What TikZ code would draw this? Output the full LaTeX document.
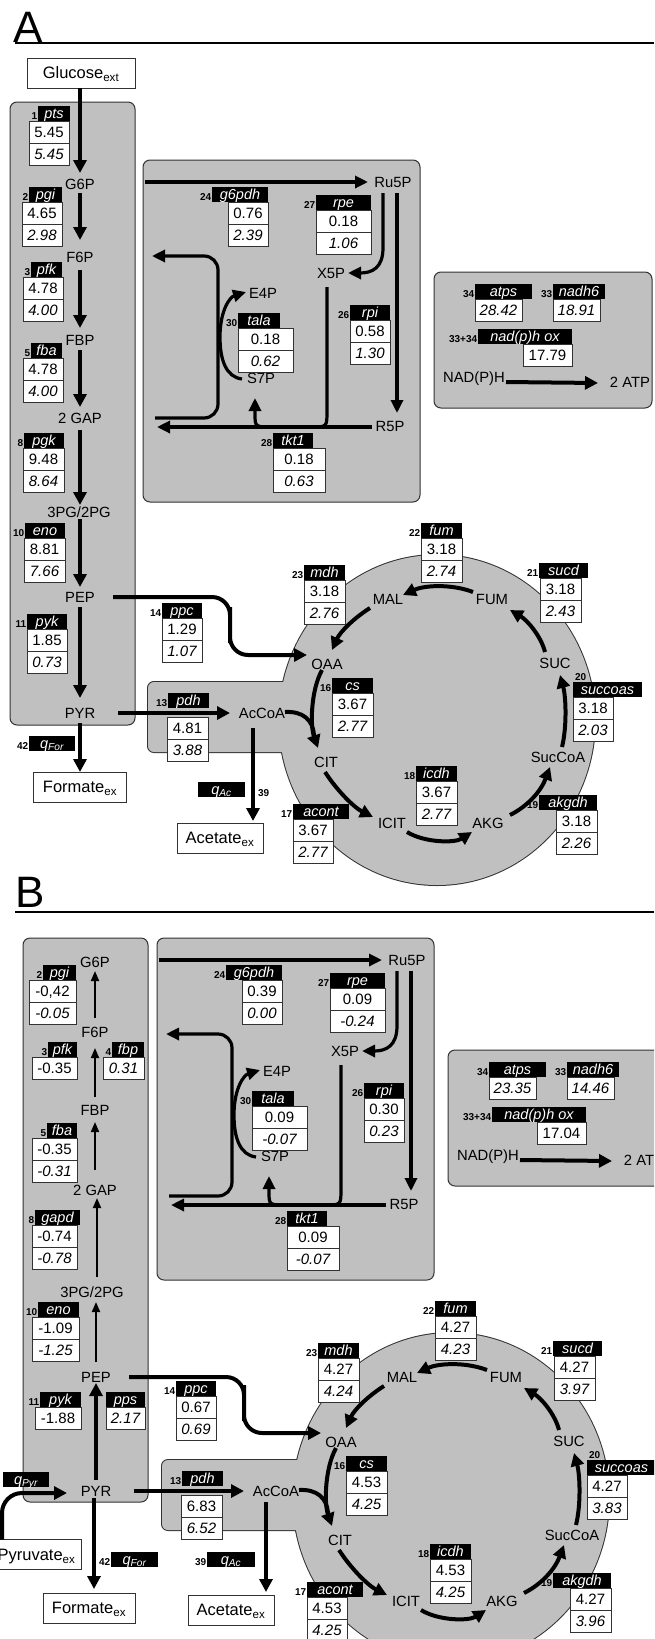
\documentclass[tikz,border=0pt]{standalone}
\usepackage{fontspec}
\setmainfont{Liberation Sans}
\usetikzlibrary{arrows.meta,calc}
\definecolor{grayc}{RGB}{192,192,192}
\definecolor{edgec}{RGB}{50,50,50}
\newcommand\metf{\fontsize{14.8pt}{16pt}\selectfont}
\newcommand\valf{\fontsize{15pt}{16pt}\selectfont}
\newcommand\hdrf{\fontsize{14.5pt}{15pt}\selectfont\itshape}
\newcommand\numf{\fontsize{10pt}{11pt}\selectfont\bfseries}
\newcommand\exf{\fontsize{16.5pt}{18pt}\selectfont}
\newcommand\ttlf{\fontsize{44pt}{44pt}\selectfont}
\makeatletter
\newcommand\setfv[2]{\expandafter\def\csname fluxv@#1\endcsname{#2}}
\newcommand\fv[1]{\csname fluxv@#1\endcsname}
\makeatother
\tikzset{
  x=1pt, y=-1pt,
  graybox/.style={draw=edgec, line width=1pt, fill=grayc, rounded corners=7pt, inner sep=0pt, outer sep=0pt},
  met/.style={inner sep=0pt, outer sep=0pt, text height=10.6pt, text depth=0pt, font=\metf},
  hdrbox/.style={fill=black, text=white, inner sep=0pt, outer sep=0pt, minimum height=15pt, text height=10.5pt, text depth=1.5pt, font=\hdrf},
  valbox/.style={draw=edgec, fill=white, line width=0.9pt, inner sep=0pt, outer sep=0pt, minimum height=22pt, text height=10.6pt, text depth=0pt, font=\valf},
  numlbl/.style={inner sep=0pt, outer sep=0pt, font=\numf},
  exbox/.style={draw=edgec, fill=white, line width=1pt, inner sep=0pt, outer sep=0pt, minimum height=30pt, text height=11.8pt, text depth=0pt, font=\exf},
  ttl/.style={inner sep=0pt, outer sep=0pt, font=\ttlf},
  rulestyle/.style={line width=1.5pt},
  arr/.style={line width=4pt, -{Triangle[length=13pt, width=13pt]}},
  parr/.style={line width=3.2pt, -{Triangle[length=13pt, width=12pt]}},
  pline/.style={line width=4pt},
  thinarr/.style={line width=1.8pt, -{Triangle[length=10pt, width=8pt]}},
}
\newcommand\hdr[6]{%
  \node[hdrbox, minimum width=#5pt, anchor=north west] (#1) at (#3,#4) {#6};
  \node[numlbl, anchor=south east] (#1-n) at ($(#1.south west)+(-0.8,-1.5)$) {#2};}
\newcommand\vals[6]{%
  \node[valbox, minimum width=#4pt, anchor=north west] (#1-a) at (#2,#3) {#5};
  \node[valbox, minimum width=#4pt, anchor=north west] (#1-b) at (#1-a.south west) {\itshape #6};}
\newcommand\vup[5]{%
  \node[valbox, minimum width=#4pt, anchor=north west] (#1) at (#2,#3) {#5};}
\newcommand\vit[5]{%
  \node[valbox, minimum width=#4pt, anchor=north west] (#1) at (#2,#3) {\itshape #5};}
\newcommand\commonpart{%
  \node[graybox, minimum width=277pt, minimum height=342pt, anchor=north west] (ppp) at (143,160) {};
  \node[graybox, minimum width=218pt, minimum height=136pt, anchor=north west] (cof) at (434,272) {};
  \draw[edgec, line width=2pt] (437,720) ellipse[x radius=158, y radius=165];
  \draw[edgec, line width=2pt, rounded corners=6pt] (148,682) rectangle (330,752);
  \fill[grayc] (437,720) ellipse[x radius=158, y radius=165];
  \fill[grayc, rounded corners=6pt] (148,682) rectangle (330,752);
  % metabolites
  \node[met] (Ru5P) at (393,182) {Ru5P};
  \node[met] (X5P) at (331,273) {X5P};
  \node[met] (R5P) at (390,426) {R5P};
  \node[met] (E4P) at (263,293) {E4P};
  \node[met] (S7P) at (261,378) {S7P};
  \node[met] (AcCoA) at (262,713) {AcCoA};
  \node[met] (OAA) at (327,664) {OAA};
  \node[met] (CIT) at (326,762) {CIT};
  \node[met] (ICIT) at (392,823) {ICIT};
  \node[met] (AKG) at (488,823) {AKG};
  \node[met] (SucCoA) at (558,757) {SucCoA};
  \node[met] (SUC) at (555,663) {SUC};
  \node[met] (FUM) at (492,599) {FUM};
  \node[met] (MAL) at (388,599) {MAL};
  \node[met] (NADPH) at (474,377) {NAD(P)H};
  \node[met] (ATP) at (630,382) {2 ATP};
  % pentose phosphate arrows
  \coordinate (g6in) at (145,182);
  \draw[parr] (g6in) -- ($(Ru5P)+(-25,0)$);
  \draw[parr] ($(Ru5P)+(-10,11)$) -- (383,248) .. controls (383,268) and (372,273) .. ($(X5P)+(17,0)$);
  \draw[parr] ($(Ru5P)+(4,11)$) -- ($(R5P)+(7,-13)$);
  \coordinate (gapout) at (157,427);
  \draw[parr] ($(R5P)+(-18,1)$) -- (gapout);
  \draw[parr] ($(X5P)+(-4,14)$) -- (327,411) .. controls (327,427) .. (311,427) -- (273,427) .. controls (255,427) .. (255,414) -- ($(S7P)+(-6,20)$);
  \draw[parr] ($(S7P)+(-19,1)$) .. controls (226,377) and (220,360) .. (220,337) .. controls (220,310) and (230,297) .. ($(E4P)+(-17,-1)$);
  \coordinate (talain) at (155,418);
  \coordinate (talaout) at (152,256);
  \draw[parr, rounded corners=14pt] (talain) -| (218,256) -- (talaout);
  % TCA arrows
  \draw[arr] ($(FUM)+(-19,-7)$) .. controls (452,584) and (425,585) .. ($(MAL)+(15,-4)$);
  \draw[arr] ($(MAL)+(-18,9)$) .. controls (354,618) and (340,632) .. ($(OAA)+(5,-14)$);
  \draw[arr] ($(OAA)+(-5,6)$) .. controls (311,690) and (310,725) .. ($(CIT)+(-8,-14)$);
  \draw[pline] ($(AcCoA)+(23,-1)$) .. controls (303,711) and (313,720) .. ($(CIT)+(-12,-27)$);
  \draw[arr] ($(CIT)+(-1,10)$) .. controls (338,792) and (355,808) .. ($(ICIT)+(-19,-6)$);
  \draw[arr] ($(ICIT)+(15,9)$) .. controls (425,843) and (455,843) .. ($(AKG)+(-16,9)$);
  \draw[arr] ($(AKG)+(22,-8)$) .. controls (528,806) and (541,791) .. ($(SucCoA)+(-8,10)$);
  \draw[arr] ($(SucCoA)+(4,-10)$) .. controls (567,727) and (566,697) .. ($(SUC)+(5,12)$);
  \draw[arr] ($(SUC)+(-10,-11)$) .. controls (541,636) and (527,620) .. ($(FUM)+(18,11)$);
  % anaplerotic and pdh
  \coordinate (ppcbend) at (230,625);
  \draw[arr, rounded corners=18pt] ($(PEP)+(33,0)$) -| (ppcbend) |- ($(OAA)+(-20,-9)$);
  \draw[arr] ($(PYR)+(38,0)$) -- ($(AcCoA)+(-32,0)$);
  \draw[arr] ($(NADPH)+(32,5)$) -- ($(ATP)+(-32,1)$);
  % flux boxes
  \hdr{g6pdh}{24}{212}{187}{56}{g6pdh}\vals{g6pdhv}{228}{202}{40}{\fv{g6a}}{\fv{g6b}}
  \hdr{rpe}{27}{316}{195}{55}{rpe}\vals{rpev}{316}{210}{55}{\fv{rpea}}{\fv{rpeb}}
  \hdr{rpi}{26}{350}{305}{40}{rpi}\vals{rpiv}{350}{320}{40}{\fv{rpia}}{\fv{rpib}}
  \hdr{tala}{30}{238}{313}{42}{tala}\vals{talav}{238}{328}{55}{\fv{talaa}}{\fv{talab}}
  \hdr{tkt}{28}{273}{433}{40}{tkt1}\vals{tktv}{273}{448}{52}{\fv{tkta}}{\fv{tktb}}
  \hdr{ppc}{14}{162}{603}{40}{ppc}\vals{ppcv}{162}{618}{40}{\fv{ppca}}{\fv{ppcb}}
  \hdr{pdh}{13}{168}{693}{41}{pdh}\vals{pdhv}{167}{717}{41}{\fv{pdha}}{\fv{pdhb}}
  \hdr{fum}{22}{421}{523}{41}{fum}\vals{fumv}{421}{538}{41}{\fv{fuma}}{\fv{fumb}}
  \hdr{mdh}{23}{304}{565}{41}{mdh}\vals{mdhv}{304}{580}{41}{\fv{mdha}}{\fv{mdhb}}
  \hdr{sucd}{21}{539}{563}{49}{sucd}\vals{sucdv}{540}{578}{41}{\fv{sucda}}{\fv{sucdb}}
  \hdr{cs}{16}{332}{678}{41}{cs}\vals{csv}{332}{693}{41}{\fv{csa}}{\fv{csb}}
  \node[hdrbox, minimum width=69pt, anchor=north west] (succoas) at (573,682) {succoas};
  \node[numlbl, anchor=south west] (succoas-n) at ($(succoas.north west)+(2,-1)$) {20};
  \vals{succoasv}{573}{697}{40}{\fv{scsa}}{\fv{scsb}}
  \hdr{icdh}{18}{416}{766}{41}{icdh}\vals{icdhv}{416}{781}{41}{\fv{icda}}{\fv{icdb}}
  \hdr{akgdh}{19}{539}{795}{58}{akgdh}\vals{akgdhv}{556}{810}{41}{\fv{akga}}{\fv{akgb}}
  \hdr{acont}{17}{293}{804}{56}{acont}\vals{acontv}{293}{819}{40}{\fv{acoa}}{\fv{acob}}
  \hdr{atps}{34}{475}{284}{57}{atps}\vit{atpsv}{475}{299}{47}{\fv{atps}}
  \hdr{nadh}{33}{553}{284}{52}{nadh6}\vit{nadhv}{553}{299}{47}{\fv{nadh}}
  \hdr{nadox}{33+34}{478}{329}{94}{nad(p)h ox}\vup{nadoxv}{523}{344}{49}{\fv{nadox}}
}
\begin{document}
\begin{tikzpicture}
\useasboundingbox (0,0) rectangle (654,1639);
\fill[white] (0,0) rectangle (654,1639);
\clip (0,0) rectangle (654,1639);
% ================= Panel A =================
\node[ttl, anchor=base west] (ttlA) at (13,42) {A};
\draw[rulestyle] (15,43) -- (654,43);
\node[graybox, minimum width=125pt, minimum height=623pt, anchor=north west] (glycA) at (10,102) {};
\node[exbox, minimum width=108pt] (Glc) at (81,73) {Glucose\textsubscript{ext}};
\node[met] (G6P) at (80,184) {G6P};
\node[met] (F6P) at (80,257) {F6P};
\node[met] (FBP) at (80,340) {FBP};
\node[met] (GAP) at (80,418) {2 GAP};
\node[met] (PGA) at (79,512) {3PG/2PG};
\node[met] (PEP) at (80,597) {PEP};
\node[met] (PYR) at (80,713) {PYR};
\setfv{g6a}{0.76}\setfv{g6b}{2.39}\setfv{rpea}{0.18}\setfv{rpeb}{1.06}
\setfv{rpia}{0.58}\setfv{rpib}{1.30}\setfv{talaa}{0.18}\setfv{talab}{0.62}
\setfv{tkta}{0.18}\setfv{tktb}{0.63}\setfv{ppca}{1.29}\setfv{ppcb}{1.07}
\setfv{pdha}{4.81}\setfv{pdhb}{3.88}\setfv{fuma}{3.18}\setfv{fumb}{2.74}
\setfv{mdha}{3.18}\setfv{mdhb}{2.76}\setfv{sucda}{3.18}\setfv{sucdb}{2.43}
\setfv{csa}{3.67}\setfv{csb}{2.77}\setfv{scsa}{3.18}\setfv{scsb}{2.03}
\setfv{icda}{3.67}\setfv{icdb}{2.77}\setfv{akga}{3.18}\setfv{akgb}{2.26}
\setfv{acoa}{3.67}\setfv{acob}{2.77}\setfv{atps}{28.42}\setfv{nadh}{18.91}
\setfv{nadox}{17.79}
\commonpart
\node[exbox, minimum width=93pt] (Form) at (80,787) {Formate\textsubscript{ex}};
\node[exbox, minimum width=86pt] (Acet) at (220,838) {Acetate\textsubscript{ex}};
\draw[arr] ($(Glc.south)+(-1,0)$) -- ($(G6P)+(0,-11)$);
\draw[arr] ($(G6P)+(0,9)$) -- ($(F6P)+(0,-17)$);
\draw[arr] ($(F6P)+(0,13)$) -- ($(FBP)+(0,-12)$);
\draw[arr] ($(FBP)+(0,10)$) -- ($(GAP)+(0,-11)$);
\draw[arr] ($(GAP)+(0,12)$) -- ($(PGA)+(1,-7)$);
\draw[arr] ($(PGA)+(1,7)$) -- ($(PEP)+(0,-10)$);
\draw[arr] ($(PEP)+(0,10)$) -- ($(PYR)+(0,-15)$);
\draw[arr] ($(PYR)+(0,10)$) -- (Form.north);
\draw[arr] ($(AcCoA)+(-9,15)$) -- ($(Acet.north)+(33,-2)$);
\hdr{pts}{1}{38}{106}{32}{pts}\vals{ptsv}{29}{121}{40}{5.45}{5.45}
\hdr{pgi}{2}{29}{187}{33}{pgi}\vals{pgiv}{22}{202}{40}{4.65}{2.98}
\hdr{pfk}{3}{31}{262}{31}{pfk}\vals{pfkv}{23}{277}{40}{4.78}{4.00}
\hdr{fba}{5}{31}{343}{31}{fba}\vals{fbav}{23}{358}{40}{4.78}{4.00}
\hdr{pgk}{8}{24}{433}{40}{pgk}\vals{pgkv}{23}{448}{41}{9.48}{8.64}
\hdr{eno}{10}{25}{523}{40}{eno}\vals{enov}{24}{538}{41}{8.81}{7.66}
\hdr{pyk}{11}{27}{614}{40}{pyk}\vals{pykv}{27}{629}{40}{1.85}{0.73}
\hdr{qfor}{42}{29}{736}{46}{q\textsubscript{For}}
\node[hdrbox, minimum width=47pt, anchor=north west] (qac) at (198,782) {q\textsubscript{Ac}};
\node[numlbl, anchor=west] (qac-n) at (258,793) {39};
% ================= Panel B =================
\node[ttl, anchor=base west] (ttlB) at (15,907) {B};
\draw[rulestyle] (15,912) -- (654,912);
\setfv{g6a}{0.39}\setfv{g6b}{0.00}\setfv{rpea}{0.09}\setfv{rpeb}{-0.24}
\setfv{rpia}{0.30}\setfv{rpib}{0.23}\setfv{talaa}{0.09}\setfv{talab}{-0.07}
\setfv{tkta}{0.09}\setfv{tktb}{-0.07}\setfv{ppca}{0.67}\setfv{ppcb}{0.69}
\setfv{pdha}{6.83}\setfv{pdhb}{6.52}\setfv{fuma}{4.27}\setfv{fumb}{4.23}
\setfv{mdha}{4.27}\setfv{mdhb}{4.24}\setfv{sucda}{4.27}\setfv{sucdb}{3.97}
\setfv{csa}{4.53}\setfv{csb}{4.25}\setfv{scsa}{4.27}\setfv{scsb}{3.83}
\setfv{icda}{4.53}\setfv{icdb}{4.25}\setfv{akga}{4.27}\setfv{akgb}{3.96}
\setfv{acoa}{4.53}\setfv{acob}{4.25}\setfv{atps}{23.35}\setfv{nadh}{14.46}
\setfv{nadox}{17.04}
\begin{scope}[shift={(14,778)}, name prefix=B-]
\node[graybox, minimum width=125pt, minimum height=564pt, anchor=north west] (glyc) at (9,160) {};
\node[met] (G6P) at (81,184) {G6P};
\node[met] (F6P) at (81,254) {F6P};
\node[met] (FBP) at (81,332) {FBP};
\node[met] (GAP) at (81,412) {2 GAP};
\node[met] (PGA) at (78,514) {3PG/2PG};
\node[met] (PEP) at (82,599) {PEP};
\node[met] (PYR) at (82,713) {PYR};
\commonpart
\node[exbox, minimum width=89pt] (Pyr) at (22.5,776.5) {Pyruvate\textsubscript{ex}};
\node[exbox, minimum width=92pt] (Form) at (75,830) {Formate\textsubscript{ex}};
\node[exbox, minimum width=86pt] (Acet) at (217,832) {Acetate\textsubscript{ex}};
\draw[thinarr] ($(F6P)+(0,-14)$) -- ($(G6P)+(0,9)$);
\draw[thinarr] ($(FBP)+(0,-13)$) -- ($(F6P)+(0,16)$);
\draw[thinarr] ($(GAP)+(0,-20)$) -- ($(FBP)+(0,12)$);
\draw[thinarr] ($(PGA)+(5,-15)$) -- ($(GAP)+(2,8)$);
\draw[thinarr] ($(PEP)+(0,-15)$) -- ($(PGA)+(4,10)$);
\draw[arr] ($(PYR)+(0,-11)$) -- ($(PEP)+(0,6)$);
\draw[arr, rounded corners=20pt] ($(Pyr.north)+(-34.5,0)$) |- ($(PYR)+(-29,2)$);
\draw[arr] ($(PYR)+(-2,7)$) -- ($(Form.north)+(5,-4)$);
\draw[arr] ($(AcCoA)+(-10,11)$) -- ($(Acet.north)+(35,-3)$);
\hdr{pgi}{2}{29}{187}{33}{pgi}\vals{pgiv}{15}{202}{47}{-0,42}{-0.05}
\hdr{pfk}{3}{34}{264}{29}{pfk}\vup{pfkv}{18}{279}{45}{-0.35}
\hdr{fbp}{4}{98}{264}{32}{fbp}\vit{fbpv}{89}{279}{41}{0.31}
\hdr{fba}{5}{33}{345}{30}{fba}\vals{fbav}{18}{360}{45}{-0.35}{-0.31}
\hdr{gapd}{8}{21}{432}{45}{gapd}\vals{gapdv}{18}{447}{45}{-0.74}{-0.78}
\hdr{eno}{10}{24}{524}{41}{eno}\vals{enov}{18}{539}{47}{-1.09}{-1.25}
\hdr{pyk}{11}{26}{614}{41}{pyk}\vup{pykv}{21}{629}{46}{-1.88}
\node[hdrbox, minimum width=39pt, anchor=north west] (pps) at (92,614) {pps};
\vit{ppsv}{92}{629}{39}{2.17}
\node[hdrbox, minimum width=46pt, anchor=north west] (qpyr) at (-11,694) {q\textsubscript{Pyr}};
\hdr{qfor}{42}{97}{774}{47}{q\textsubscript{For}}
\hdr{qac}{39}{193}{774}{48}{q\textsubscript{Ac}}
\end{scope}
\end{tikzpicture}
\end{document}
